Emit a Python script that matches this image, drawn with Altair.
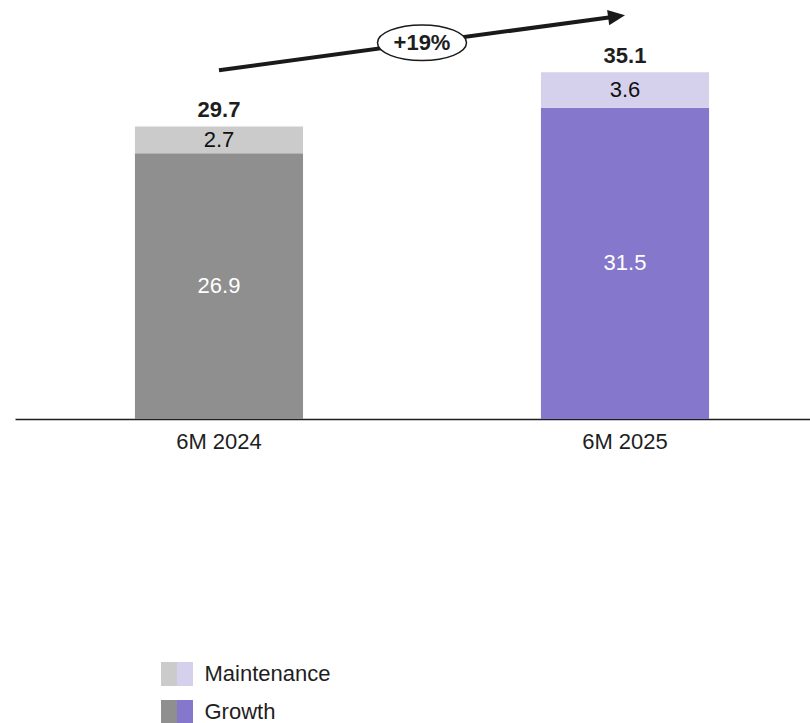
import altair as alt
import pandas as pd

# ---------------- data ----------------
categories = ["6M 2024", "6M 2025"]
growth = [26.9, 31.5]
maintenance = [2.7, 3.6]
totals = [29.7, 35.1]
growth_colors = ["#8f8f8f", "#8577cc"]
maint_colors = ["#cbcbcb", "#d5d0ec"]
series = ["Maintenance", "Growth"]
change_label = "+19%"
arrow_y = [35.3, 40.85]  # arrow start / end heights (value units)

FONT = "Liberation Sans"
FS = 22
INK = "#1e1e1e"

rows = []
for i, c in enumerate(categories):
    rows.append({"cat": c, "series": "Growth", "ord": 0, "value": growth[i],
                 "key": f"{c} Growth", "label": f"{growth[i]:.1f}"})
    rows.append({"cat": c, "series": "Maintenance", "ord": 1, "value": maintenance[i],
                 "key": f"{c} Maintenance", "label": f"{maintenance[i]:.1f}"})
bars_df = pd.DataFrame(rows)

color_domain = [f"{c} {s}" for c in categories for s in ("Growth", "Maintenance")]
color_range = [growth_colors[0], maint_colors[0], growth_colors[1], maint_colors[1]]
color_scale = alt.Scale(domain=color_domain, range=color_range)

tot_df = pd.DataFrame({"cat": categories, "total": totals,
                       "label": [f"{t:.1f}" for t in totals]})
arrow_df = pd.DataFrame({"c0": [categories[0]], "c1": [categories[1]],
                         "y0": [arrow_y[0]], "y1": [arrow_y[1]],
                         "mid": [(arrow_y[0] + arrow_y[1]) / 2],
                         "label": [change_label]})

# ---------------- layout ----------------
W, H = 795, 419
STEP = 406
x_scale = alt.Scale(domain=categories, paddingInner=0.586, paddingOuter=0.272, align=0.543)
y_scale = alt.Scale(domain=[0, 42.4], nice=False, zero=True)

x_axis = alt.Axis(title=None, labelAngle=0, ticks=False, tickSize=0, grid=False,
                  domainColor=INK, domainWidth=1.5, labelFont=FONT, labelFontSize=FS,
                  labelColor=INK, labelPadding=12)

base = alt.Chart(bars_df)

bars = base.mark_bar().encode(
    x=alt.X("cat:N", scale=x_scale, sort=categories, axis=x_axis),
    y=alt.Y("value:Q", stack="zero", scale=y_scale, axis=None),
    color=alt.Color("key:N", scale=color_scale, legend=None),
    order=alt.Order("ord:Q"),
)

seg = base.transform_stack(
    stack="value", groupby=["cat"], as_=["v0", "v1"], sort=[alt.SortField("ord")]
).transform_calculate(mid="(datum.v0 + datum.v1) / 2")

growth_txt = seg.transform_filter("datum.series == 'Growth'").mark_text(
    font=FONT, fontSize=FS, color="white", baseline="middle"
).encode(x=alt.X("cat:N", title=None), y=alt.Y("mid:Q", title=None), text="label:N")

maint_txt = seg.transform_filter("datum.series == 'Maintenance'").mark_text(
    font=FONT, fontSize=FS, color="#111111", baseline="middle"
).encode(x=alt.X("cat:N", title=None), y=alt.Y("mid:Q", title=None), text="label:N")

total_txt = alt.Chart(tot_df).mark_text(
    font=FONT, fontSize=FS, fontWeight="bold", color=INK, baseline="alphabetic", dy=-9
).encode(x=alt.X("cat:N", title=None), y=alt.Y("total:Q", title=None), text="label:N")

arrow_line = alt.Chart(arrow_df).mark_rule(
    strokeWidth=4, color="#1a1a1a", x2Offset=-7, y2Offset=0.95
).encode(x=alt.X("c0:N", title=None), x2="c1:N", y=alt.Y("y0:Q", title=None), y2="y1:Q")

arrow_head = alt.Chart(arrow_df).mark_point(
    shape="M0,0 L-2,-0.9 L-2,0.9 Z", size=289, filled=True, color="#1a1a1a",
    opacity=1, angle=352.3, strokeWidth=0
).encode(x=alt.X("c1:N", title=None), y=alt.Y("y1:Q", title=None))

ELLIPSE = ("M-1,0 C-1,-0.2209 -0.5523,-0.4 0,-0.4 C0.5523,-0.4 1,-0.2209 1,0 "
           "C1,0.2209 0.5523,0.4 0,0.4 C-0.5523,0.4 -1,0.2209 -1,0 Z")
ellipse = alt.Chart(arrow_df).mark_point(
    shape=ELLIPSE, size=89 * 89, filled=True, fill="white", stroke="#1a1a1a",
    strokeWidth=1.5, opacity=1, xOffset=STEP / 2
).encode(x=alt.X("c0:N", title=None), y=alt.Y("mid:Q", title=None))

pct_txt = alt.Chart(arrow_df).mark_text(
    font=FONT, fontSize=FS, fontWeight="bold", color=INK, baseline="middle", dx=STEP / 2
).encode(x=alt.X("c0:N", title=None), y=alt.Y("mid:Q", title=None), text="label:N")

main = alt.layer(bars, growth_txt, maint_txt, total_txt, arrow_line, arrow_head,
                 ellipse, pct_txt).properties(width=W, height=H)

# ---------------- legend panel ----------------
leg_rows = [{"series": s, "cat": c, "key": f"{c} {s}"} for s in series for c in categories]
legend = alt.Chart(pd.DataFrame(leg_rows)).mark_rect().encode(
    x=alt.X("cat:N", sort=categories, axis=None,
            scale=alt.Scale(paddingInner=0, paddingOuter=0, range=[146, 178])),
    y=alt.Y("series:N", sort=series,
            axis=alt.Axis(orient="right", title=None, domain=False, ticks=False, tickSize=0,
                          labelPadding=11, labelFont=FONT, labelFontSize=FS, labelColor=INK),
            scale=alt.Scale(paddingInner=0.368, paddingOuter=0)),
    color=alt.Color("key:N", scale=color_scale, legend=None),
).properties(width=178, height=62)

chart = alt.vconcat(main, legend, spacing=210).resolve_scale(
    x="independent", y="independent", color="shared"
).properties(
    padding={"left": 15, "top": 0, "right": 0, "bottom": 0}
).configure(background="white").configure_view(stroke=None, strokeWidth=0)

chart.save("out.html", embed_options={"renderer": "svg", "actions": False})
